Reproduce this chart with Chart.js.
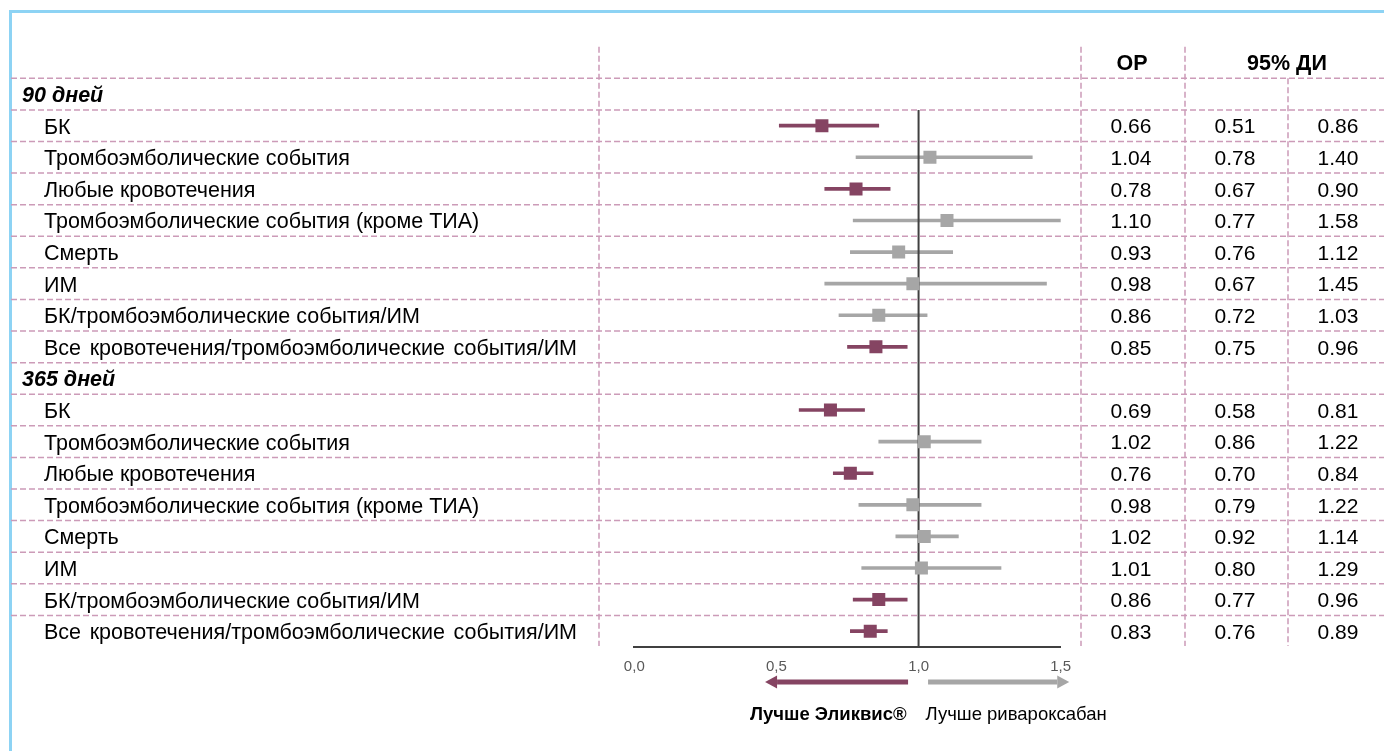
<!DOCTYPE html>
<html><head><meta charset="utf-8">
<script src="https://cdn.jsdelivr.net/npm/chart.js@4.4.1/dist/chart.umd.min.js"></script>
<style>
html,body{margin:0;padding:0;background:#fff;overflow:hidden}
#wrap{position:relative;width:1384px;height:751px;overflow:hidden}
#frame{position:absolute;left:9px;top:10px;width:1400px;height:800px;border-left:3px solid #8dd3f4;border-top:3px solid #8dd3f4}
canvas{position:absolute;left:0;top:0}
</style></head><body>
<div id="wrap"><div id="frame"></div><canvas id="c" width="1384" height="751"></canvas></div>
<script>
const groupLabels = ['90 дней', '365 дней'];
const outcomes = [
  'БК',
  'Тромбоэмболические события',
  'Любые кровотечения',
  'Тромбоэмболические события (кроме ТИА)',
  'Смерть',
  'ИМ',
  'БК/тромбоэмболические события/ИМ',
  'Все кровотечения/тромбоэмболические события/ИМ'
];
const hr90  = [0.66, 1.04, 0.78, 1.10, 0.93, 0.98, 0.86, 0.85];
const lo90  = [0.51, 0.78, 0.67, 0.77, 0.76, 0.67, 0.72, 0.75];
const hi90  = [0.86, 1.40, 0.90, 1.58, 1.12, 1.45, 1.03, 0.96];
const hr365 = [0.69, 1.02, 0.76, 0.98, 1.02, 1.01, 0.86, 0.83];
const lo365 = [0.58, 0.86, 0.70, 0.79, 0.92, 0.80, 0.77, 0.76];
const hi365 = [0.81, 1.22, 0.84, 1.22, 1.14, 1.29, 0.96, 0.89];
const xTicks = [0, 0.5, 1.0, 1.5];
const headerLabels = ['ОР', '95% ДИ'];
const favourLabels = ['Лучше Эликвис®', 'Лучше ривароксабан'];

const PURPLE = '#854462', GREY = '#a6a6a6', FONT = '"Liberation Sans", Arial, sans-serif';

// build rows
const rows = [];
[[hr90, lo90, hi90], [hr365, lo365, hi365]].forEach((g, gi) => {
  rows.push({label: groupLabels[gi], group: true});
  outcomes.forEach((o, i) => rows.push({label: o, hr: g[0][i], lo: g[1][i], hi: g[2][i]}));
});
const rowLabels = rows.map(r => r.label);
const hrData = rows.map(r => r.group ? null : r.hr);
const ciData = rows.map(r => r.group ? null : [r.lo, r.hi]);
const markColors = rows.map(r => (!r.group && r.hi < 1) ? PURPLE : GREY);

const tablePlugin = {
  id: 'table',
  beforeDatasetsDraw(chart) {
    const {ctx, scales: {y}, chartArea} = chart;
    const n = rowLabels.length;
    const band = y.getPixelForValue(1) - y.getPixelForValue(0);
    const top = i => y.getPixelForValue(i) - band / 2;
    ctx.save();
    ctx.setLineDash([6, 3]);
    ctx.strokeStyle = '#cc9bb8';
    ctx.lineWidth = 1.5;
    for (let i = 0; i < n; i++) {
      ctx.beginPath(); ctx.moveTo(11, top(i)); ctx.lineTo(1384, top(i)); ctx.stroke();
    }
    const bottom = chartArea.bottom - 1;
    [599, 1081, 1185].forEach(xx => {
      ctx.beginPath(); ctx.moveTo(xx, top(0) - band); ctx.lineTo(xx, bottom); ctx.stroke();
    });
    ctx.beginPath(); ctx.moveTo(1288, top(0)); ctx.lineTo(1288, bottom); ctx.stroke();
    ctx.restore();
  },
  beforeDatasetDraw(chart, args) {
    if (args.meta.type !== 'line') return;
    const {ctx, scales: {x, y}, chartArea} = chart;
    const band = y.getPixelForValue(1) - y.getPixelForValue(0);
    const px = x.getPixelForValue(1);
    ctx.save();
    ctx.strokeStyle = '#404040'; ctx.lineWidth = 2;
    ctx.beginPath(); ctx.moveTo(px, y.getPixelForValue(1) - band / 2); ctx.lineTo(px, chartArea.bottom); ctx.stroke();
    ctx.restore();
  },
  afterDraw(chart) {
    const {ctx, scales: {x, y}} = chart;
    const band = y.getPixelForValue(1) - y.getPixelForValue(0);
    ctx.save();
    ctx.fillStyle = '#000';
    ctx.textBaseline = 'middle';
    // header
    ctx.font = 'bold 21.5px ' + FONT;
    ctx.textAlign = 'center';
    const hy = y.getPixelForValue(0) - band + 2;
    ctx.fillText(headerLabels[0], 1132, hy);
    ctx.fillText(headerLabels[1], 1287, hy);
    rows.forEach((r, i) => {
      const cy = y.getPixelForValue(i) + 2;
      if (r.group) {
        ctx.font = 'italic bold 21.5px ' + FONT;
        ctx.textAlign = 'left';
        ctx.fillText(r.label, 22, cy);
        return;
      }
      ctx.font = '21.5px ' + FONT;
      ctx.textAlign = 'left';
      const w = ctx.measureText(r.label).width;
      const words = r.label.split(' ');
      if (w > 480 && words.length > 1) {
        const target = 533;
        const ws = words.map(t => ctx.measureText(t).width);
        const gap = (target - ws.reduce((a, b) => a + b, 0)) / (words.length - 1);
        let xx = 44;
        words.forEach((t, k) => { ctx.fillText(t, xx, cy); xx += ws[k] + gap; });
      } else {
        ctx.fillText(r.label, 44, cy);
      }
      ctx.font = '21px ' + FONT;
      ctx.textAlign = 'center';
      ctx.fillText(r.hr.toFixed(2), 1131, cy);
      ctx.fillText(r.lo.toFixed(2), 1235, cy);
      ctx.fillText(r.hi.toFixed(2), 1338, cy);
    });
    // arrows
    const x1 = x.getPixelForValue(1);
    const ay = 682;
    const arrow = (from, to, color) => {
      const dir = Math.sign(to - from);
      const head = 12;
      ctx.fillStyle = color;
      ctx.fillRect(Math.min(from, to - dir * head), ay - 2.5, Math.abs(to - dir * head - from), 5);
      ctx.beginPath();
      ctx.moveTo(to, ay);
      ctx.lineTo(to - dir * head, ay - 6.5);
      ctx.lineTo(to - dir * head, ay + 6.5);
      ctx.closePath(); ctx.fill();
    };
    arrow(x1 - 10.5, x.getPixelForValue(0.46), PURPLE);
    arrow(x1 + 9.5, x.getPixelForValue(1.53), GREY);
    ctx.fillStyle = '#000';
    ctx.font = 'bold 18.5px ' + FONT;
    ctx.textAlign = 'right';
    ctx.fillText(favourLabels[0], x1 - 12, 715);
    ctx.font = '18.5px ' + FONT;
    ctx.textAlign = 'left';
    ctx.fillText(favourLabels[1], x1 + 7, 715);
    ctx.restore();
  }
};

new Chart(document.getElementById('c'), {
  type: 'bar',
  data: {
    labels: rowLabels,
    datasets: [
      {
        type: 'line', label: 'ОР', indexAxis: 'y', data: hrData, showLine: false,
        pointStyle: 'rect', pointRadius: 9.2, pointHoverRadius: 9.2, pointBorderWidth: 0,
        pointBackgroundColor: markColors, pointBorderColor: markColors, order: 0
      },
      {
        type: 'bar', label: '95% ДИ', data: ciData, backgroundColor: markColors,
        barThickness: 3, borderWidth: 0, borderSkipped: false, order: 1, clip: 0
      }
    ]
  },
  options: {
    indexAxis: 'y', responsive: false, animation: false, events: [],
    layout: {padding: {left: 634.3, right: 323.3, top: 78.3, bottom: 74}},
    plugins: {legend: {display: false}, tooltip: {enabled: false}},
    scales: {
      x: {
        type: 'linear', min: 0, max: 1.5,
        afterBuildTicks(s) { s.ticks = xTicks.map(v => ({value: v})); },
        afterFit(s) { s.height = 30; },
        ticks: {
          callback: v => Number(v).toFixed(1).replace('.', ','),
          color: '#595959', font: {family: FONT, size: 15}, padding: 11,
          autoSkip: false, maxRotation: 0
        },
        grid: {display: false, drawTicks: false},
        border: {display: true, color: '#404040', width: 2}
      },
      y: {type: 'category', display: false, offset: true}
    }
  },
  plugins: [tablePlugin]
});
</script>
</body></html>
